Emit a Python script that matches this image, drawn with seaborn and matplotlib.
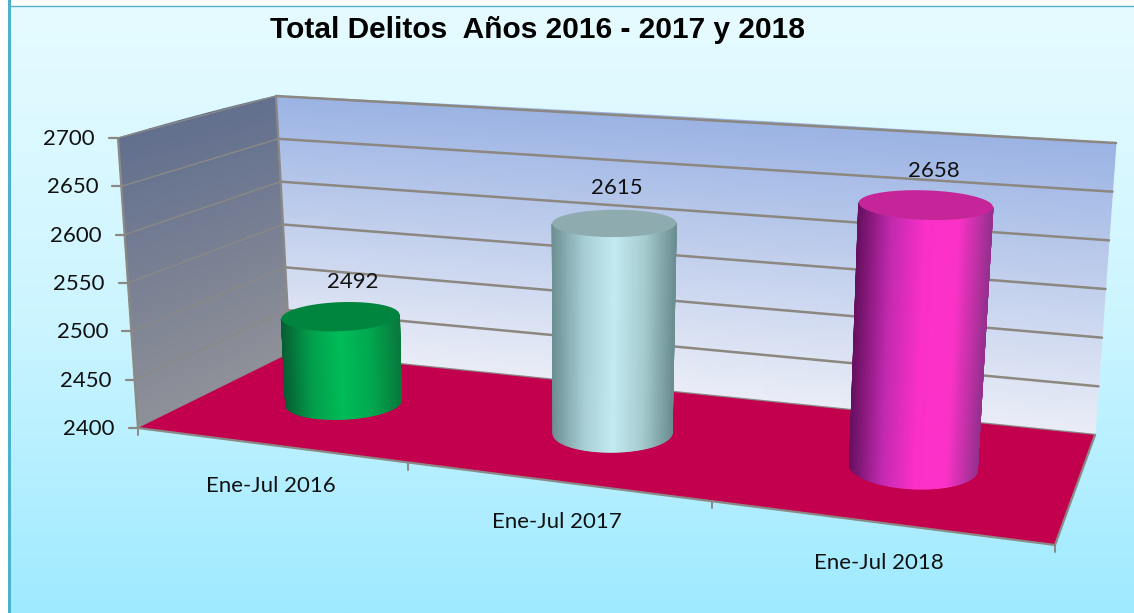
import numpy as np
import pandas as pd
import matplotlib
matplotlib.use("Agg")
import matplotlib.pyplot as plt
from matplotlib.patches import Polygon
import seaborn as sns

title = "Total Delitos  Años 2016 - 2017 y 2018"
categories = ["Ene-Jul 2016", "Ene-Jul 2017", "Ene-Jul 2018"]
values = [2492, 2615, 2658]
axis_ticks = [2400, 2450, 2500, 2550, 2600, 2650, 2700]

W, H = 1134, 613
Z0, Z1 = axis_ticks[0], axis_ticks[-1]
FLOOR = [(138, 428), (1055, 545), (1095, 435), (290, 353)]
RISE = [(-20, -290), (20, -330), (21, -292), (-14, -257)]
U_SHIFT = [0.007, 0.012, 0.0065]
V_POS = 0.5
BAR_R_U = [0.0685, 0.065, 0.0635]
R_V = 0.2
WIDEN = 0.02
TICK_SHIFT = 0.012

sns.set_theme(style="white")
plt.rcParams["font.family"] = ["Lato", "DejaVu Sans"]


def homography(q):
    src = [(0, 0), (1, 0), (1, 1), (0, 1)]
    A, b = [], []
    for (s, r), (x, y) in zip(src, q):
        A.append([s, r, 1, 0, 0, 0, -s * x, -r * x]); b.append(x)
        A.append([0, 0, 0, s, r, 1, -s * y, -r * y]); b.append(y)
    m = np.linalg.solve(np.array(A, float), np.array(b, float))
    def f(u, v):
        u, v = np.asarray(u, float), np.asarray(v, float)
        w = m[6] * u + m[7] * v + 1
        return (m[0] * u + m[1] * v + m[2]) / w, (m[3] * u + m[4] * v + m[5]) / w
    return f


hf = homography(FLOOR)
R = np.array(RISE, float)


def project(u, v, z):
    u, v = np.asarray(u, float), np.asarray(v, float)
    t = (np.asarray(z, float) - Z0) / (Z1 - Z0)
    fx, fy = hf(u, v)
    wts = [(1 - u) * (1 - v), u * (1 - v), u * v, (1 - u) * v]
    dx = sum(w * r[0] for w, r in zip(wts, R))
    dy = sum(w * r[1] for w, r in zip(wts, R))
    return fx + dx * t, fy + dy * t


fig = plt.figure(figsize=(W / 100, H / 100), dpi=100, facecolor="white")
ax = fig.add_axes([0, 0, 1, 1])
ax.set_axis_off()

# background
bg = sns.blend_palette(["#e6fbff", "#cdf5ff", "#9feaff"], as_cmap=True)
ax.imshow(np.linspace(0, 1, 256)[:, None], cmap=bg, extent=(11, W, H, 6), aspect="auto", zorder=0)
ax.fill_between([8, 11], 0, H, color="#4bb2cc", lw=0, zorder=1)
ax.plot([8, W], [5.5, 5.5], color="#55b0c8", lw=1, zorder=1)

# walls
side = sns.blend_palette(["#8f9198", "#626f8e"], as_cmap=True)
back = sns.blend_palette(["#eaedf7", "#9bb3e3"], as_cmap=True)
s, zz = np.meshgrid(np.linspace(0, 1, 12), np.linspace(Z0, Z1, 12))
X, Y = project(np.zeros_like(s), s, zz)
ax.pcolormesh(X, Y, zz, cmap=side, shading="gouraud", zorder=2)
X, Y = project(s, np.ones_like(s), zz)
ax.pcolormesh(X, Y, zz, cmap=back, shading="gouraud", zorder=2)

# grid lines, through seaborn
rows = []
for tick in axis_ticks:
    for part, pts in (("side", [(0, 0), (0, 1)]), ("back", [(0, 1), (1, 1)])):
        for a, b in pts:
            x, y = project(a, b, tick)
            rows.append(dict(x=float(x), y=float(y), level=tick, part=part))
grid = pd.DataFrame(rows)
sns.lineplot(data=grid[grid.part == "side"], x="x", y="y", units="level", estimator=None, sort=False,
             color="#8b8986", lw=1.0, legend=False, ax=ax, zorder=3)
sns.lineplot(data=grid[grid.part == "back"], x="x", y="y", units="level", estimator=None, sort=False,
             color="#8c8781", lw=1.8, legend=False, ax=ax, zorder=3)
ax.set_xlabel(""); ax.set_ylabel("")

# floor
fx, fy = hf([0, 1, 1, 0], [0, 0, 1, 1])
ax.add_patch(Polygon(np.c_[fx, fy], closed=True, fc="#c2004e", ec="none", zorder=4))

# frame
edge = "#8b8985"
for a, b in [((0, 0, Z0), (1, 0, Z0)), ((1, 0, Z0), (1, 1, Z0)), ((0, 0, Z0), (0, 0, Z1)), ((0, 1, Z0), (0, 1, Z1))]:
    xa, ya = project(*a); xb, yb = project(*b)
    ax.plot([xa, xb], [ya, yb], color=edge, lw=1.6, zorder=5)

# value axis ticks and labels
for tick in axis_ticks:
    x, y = project(0, 0, tick)
    ax.plot([x - 9, x], [y, y], color=edge, lw=1.6, zorder=5)
    ax.text(x - 23, y + 1, str(tick), ha="right", va="center", fontsize=16, color="#111111", zorder=8)

# category ticks
for i in range(len(categories) + 1):
    inner = 0 < i < len(categories)
    x, y = project(i / len(categories) + TICK_SHIFT * inner, 0, Z0)
    ax.plot([x, x], [y, y + 7], color=edge, lw=1.4, zorder=5)

# cylinders
body_maps = [
    sns.blend_palette(["#065f33", "#02a04c", "#00bd58", "#02a850", "#087a3c"], as_cmap=True),
    sns.blend_palette(["#6d9094", "#a6cdd3", "#c4eaf2", "#a5ccd0", "#6b8e91"], as_cmap=True),
    sns.blend_palette(["#671060", "#c32ab0", "#fb30c8", "#fc32c8", "#96308f"], as_cmap=True),
]
top_colors = ["#00853e", "#8eacaf", "#c52599"]
label_offset = [(12, -34), (3, -35), (8, -33)]
N = 91


def ring(u0, r_u, value, th):
    t = (value - Z0) / (Z1 - Z0)
    k = 1 + WIDEN * t
    return project(u0 + k * r_u * np.cos(th), V_POS + R_V * np.sin(th), np.full_like(th, value, dtype=float))


def front_arc(u0, r_u, value):
    full = np.linspace(0, 2 * np.pi, 721)
    x, _ = ring(u0, r_u, value, full)
    lo = full[np.argmin(x)]
    hi = full[np.argmax(x)]
    lo = lo if lo > 0 else lo + 2 * np.pi
    hi = hi if hi > lo else hi + 2 * np.pi
    return np.linspace(lo, hi, N)


for i, (value, cmap, top) in enumerate(zip(values, body_maps, top_colors)):
    u0 = (i + 0.5) / len(values) + U_SHIFT[i]
    r_u = BAR_R_U[i]
    xb, yb = ring(u0, r_u, Z0, front_arc(u0, r_u, Z0))
    xt, yt = ring(u0, r_u, value, front_arc(u0, r_u, value))
    shade = (xb - xb[0]) / (xb[-1] - xb[0])
    ax.pcolormesh(np.vstack([xb, xt]), np.vstack([yb, yt]), np.vstack([shade, shade]),
                  cmap=cmap, vmin=0, vmax=1, shading="gouraud", zorder=6)
    tx, ty = ring(u0, r_u, value, np.linspace(0, 2 * np.pi, 181))
    ax.add_patch(Polygon(np.c_[tx, ty], closed=True, fc=top, ec="none", zorder=7))
    cx, cy = project(u0, V_POS, value)
    dx, dy = label_offset[i]
    ax.text(cx + dx, cy + dy, str(value), ha="center", va="center", fontsize=16, color="#111111", zorder=8)
    lx, ly = project(u0, 0, Z0)
    ax.text(lx + 2, ly + 41, categories[i], ha="center", va="center", fontsize=16, color="#111111", zorder=8)

ax.text(537, 30, title, ha="center", va="center", fontsize=21.5, fontweight="bold",
        family=["Liberation Sans", "DejaVu Sans"], color="black", zorder=8)

ax.set_xlim(0, W)
ax.set_ylim(H, 0)
fig.savefig("out.png", dpi=100, facecolor="white")
